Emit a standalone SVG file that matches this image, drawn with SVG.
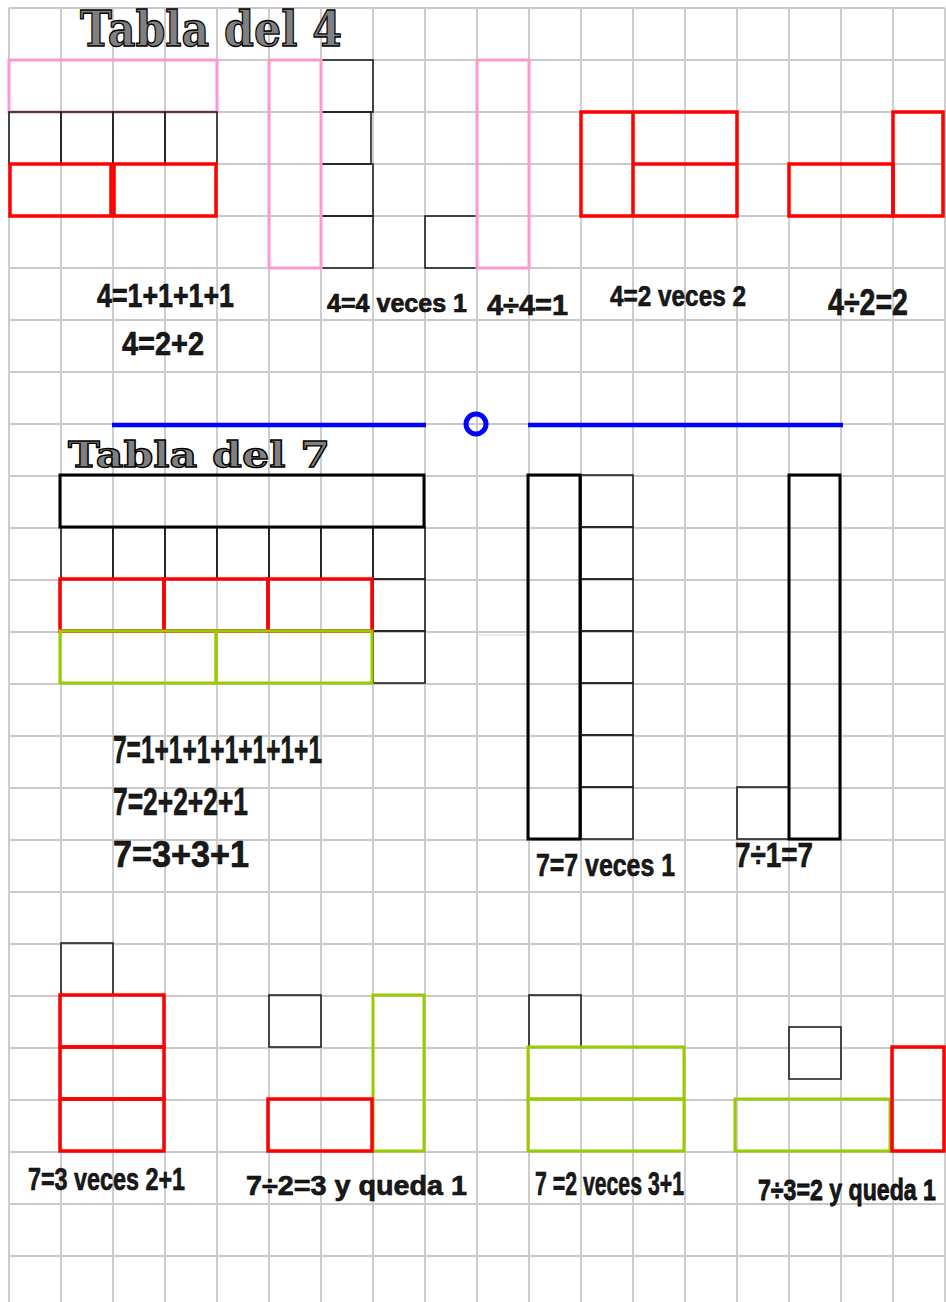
<svg xmlns="http://www.w3.org/2000/svg" width="946" height="1302" viewBox="0 0 946 1302">
<defs>
<style>
.grid line{stroke:#c9c9c9;stroke-width:1.8}
.thin{fill:none;stroke:#222;stroke-width:1.6}
.thick{fill:none;stroke:#000;stroke-width:3}
.pink{fill:none;stroke:#ff99cc;stroke-width:3}
.red{fill:none;stroke:#ff0000;stroke-width:3.5}
.green{fill:none;stroke:#99cc00;stroke-width:3}
.title{font-family:"DejaVu Serif","Liberation Serif",serif;font-weight:bold;fill:#808080;stroke:#000;stroke-width:1.3}
.lbl{font-family:"Liberation Sans",Arial,sans-serif;font-weight:bold;fill:#1a1a1a;stroke:#000;stroke-width:0.6}
</style>
</defs>
<rect width="946" height="1302" fill="#fff"/>
<g id="grid" class="grid">
<line x1="9" y1="8" x2="9" y2="1302"/><line x1="61" y1="8" x2="61" y2="1302"/><line x1="113" y1="8" x2="113" y2="1302"/><line x1="165" y1="8" x2="165" y2="1302"/><line x1="217" y1="8" x2="217" y2="1302"/><line x1="269" y1="8" x2="269" y2="1302"/><line x1="321" y1="8" x2="321" y2="1302"/><line x1="373" y1="8" x2="373" y2="1302"/><line x1="425" y1="8" x2="425" y2="1302"/><line x1="477" y1="8" x2="477" y2="1302"/><line x1="529" y1="8" x2="529" y2="1302"/><line x1="581" y1="8" x2="581" y2="1302"/><line x1="633" y1="8" x2="633" y2="1302"/><line x1="685" y1="8" x2="685" y2="1302"/><line x1="737" y1="8" x2="737" y2="1302"/><line x1="789" y1="8" x2="789" y2="1302"/><line x1="841" y1="8" x2="841" y2="1302"/><line x1="893" y1="8" x2="893" y2="1302"/><line x1="945" y1="8" x2="945" y2="1302"/>
<line x1="9" y1="8" x2="945" y2="8"/><line x1="9" y1="60" x2="945" y2="60"/><line x1="9" y1="112" x2="945" y2="112"/><line x1="9" y1="164" x2="945" y2="164"/><line x1="9" y1="216" x2="945" y2="216"/><line x1="9" y1="268" x2="945" y2="268"/><line x1="9" y1="320" x2="945" y2="320"/><line x1="9" y1="372" x2="945" y2="372"/><line x1="9" y1="424" x2="945" y2="424"/><line x1="9" y1="476" x2="945" y2="476"/><line x1="9" y1="528" x2="945" y2="528"/><line x1="9" y1="580" x2="945" y2="580"/><line x1="9" y1="632" x2="945" y2="632"/><line x1="9" y1="684" x2="945" y2="684"/><line x1="9" y1="736" x2="945" y2="736"/><line x1="9" y1="788" x2="945" y2="788"/><line x1="9" y1="840" x2="945" y2="840"/><line x1="9" y1="892" x2="945" y2="892"/><line x1="9" y1="944" x2="945" y2="944"/><line x1="9" y1="996" x2="945" y2="996"/><line x1="9" y1="1048" x2="945" y2="1048"/><line x1="9" y1="1100" x2="945" y2="1100"/><line x1="9" y1="1152" x2="945" y2="1152"/><line x1="9" y1="1204" x2="945" y2="1204"/><line x1="9" y1="1256" x2="945" y2="1256"/>
<line x1="477" y1="635" x2="527" y2="635" style="stroke:#d8d8d8;stroke-width:1.2"/>
</g>

<g id="titulo4"><text class="title" x="80" y="46" font-size="48" textLength="262" lengthAdjust="spacingAndGlyphs">Tabla del 4</text></g>

<g id="fig4-sumas">
<rect class="pink" x="9" y="60" width="208" height="52"/>
<rect class="thin" x="9" y="112" width="52" height="52"/><rect class="thin" x="61" y="112" width="52" height="52"/><rect class="thin" x="113" y="112" width="52" height="52"/><rect class="thin" x="165" y="112" width="52" height="52"/>
<rect class="red" x="10" y="164" width="101" height="52"/><rect class="red" x="114" y="164" width="102" height="52"/>
</g>

<g id="fig4-veces1">
<rect class="thin" x="321" y="60" width="52" height="52"/><rect class="thin" x="321" y="112" width="50" height="52"/><rect class="thin" x="321" y="164" width="52" height="52"/><rect class="thin" x="321" y="216" width="52" height="52"/>
<rect class="pink" x="269" y="60" width="52" height="208"/>
</g>

<g id="fig4-div1">
<rect class="thin" x="425" y="216" width="52" height="52"/>
<rect class="pink" x="477" y="60" width="52" height="208"/>
</g>

<g id="fig4-veces2">
<rect class="red" x="581" y="112" width="156" height="104"/>
<line class="red" x1="633" y1="112" x2="633" y2="216"/>
<line class="red" x1="633" y1="164" x2="737" y2="164"/>
</g>

<g id="fig4-div2">
<rect class="red" x="789" y="164" width="104" height="52"/>
<rect class="red" x="893" y="112" width="50" height="104"/>
</g>

<g id="labels4">
<text class="lbl" x="97" y="307" font-size="33" textLength="137" lengthAdjust="spacingAndGlyphs">4=1+1+1+1</text>
<text class="lbl" x="122" y="355" font-size="34" textLength="82" lengthAdjust="spacingAndGlyphs">4=2+2</text>
<text class="lbl" x="327" y="312" font-size="25" textLength="140" lengthAdjust="spacingAndGlyphs">4=4 veces 1</text>
<text class="lbl" x="487" y="315" font-size="30" textLength="81" lengthAdjust="spacingAndGlyphs">4÷4=1</text>
<text class="lbl" x="610" y="306" font-size="29" textLength="136" lengthAdjust="spacingAndGlyphs">4=2 veces 2</text>
<text class="lbl" x="828" y="315" font-size="37" textLength="80" lengthAdjust="spacingAndGlyphs">4÷2=2</text>
</g>

<g id="separador">
<line x1="112" y1="425" x2="426" y2="425" stroke="#0000ff" stroke-width="4.5"/>
<circle cx="476" cy="424" r="10" fill="none" stroke="#0000ff" stroke-width="5"/>
<line x1="528" y1="425" x2="843" y2="425" stroke="#0000ff" stroke-width="4.5"/>
</g>

<g id="titulo7"><text class="title" x="68" y="467" font-size="36" textLength="262" lengthAdjust="spacingAndGlyphs">Tabla del 7</text></g>

<g id="fig7-sumas">
<rect class="thin" x="61" y="527" width="52" height="52"/><rect class="thin" x="113" y="527" width="52" height="52"/><rect class="thin" x="165" y="527" width="52" height="52"/><rect class="thin" x="217" y="527" width="52" height="52"/><rect class="thin" x="269" y="527" width="52" height="52"/><rect class="thin" x="321" y="527" width="52" height="52"/><rect class="thin" x="373" y="527" width="52" height="52"/>
<rect class="thin" x="373" y="579" width="52" height="52"/><rect class="thin" x="373" y="631" width="52" height="52"/>
<rect class="thick" x="60" y="475" width="364" height="52"/>
<rect class="red" x="60" y="579" width="104" height="52"/><rect class="red" x="164" y="579" width="104" height="52"/><rect class="red" x="268" y="579" width="104" height="52"/>
<rect class="green" x="60" y="631" width="156" height="52"/><rect class="green" x="216" y="631" width="156" height="52"/>
</g>

<g id="fig7-veces1">
<rect class="thin" x="581" y="475" width="52" height="52"/><rect class="thin" x="581" y="527" width="52" height="52"/><rect class="thin" x="581" y="579" width="52" height="52"/><rect class="thin" x="581" y="631" width="52" height="52"/><rect class="thin" x="581" y="683" width="52" height="52"/><rect class="thin" x="581" y="735" width="52" height="52"/><rect class="thin" x="581" y="787" width="52" height="52"/>
<rect class="thick" x="528" y="475" width="52" height="364"/>
</g>

<g id="fig7-div1">
<rect class="thin" x="737" y="787" width="52" height="52"/>
<rect class="thick" x="789" y="475" width="51" height="364"/>
</g>

<g id="labels7">
<text class="lbl" x="113" y="763" font-size="38" textLength="209" lengthAdjust="spacingAndGlyphs">7=1+1+1+1+1+1+1</text>
<text class="lbl" x="113" y="815" font-size="38" textLength="135" lengthAdjust="spacingAndGlyphs">7=2+2+2+1</text>
<text class="lbl" x="113" y="867" font-size="36" textLength="136" lengthAdjust="spacingAndGlyphs">7=3+3+1</text>
<text class="lbl" x="536" y="876" font-size="32" textLength="139" lengthAdjust="spacingAndGlyphs">7=7 veces 1</text>
<text class="lbl" x="735" y="867" font-size="35" textLength="78" lengthAdjust="spacingAndGlyphs">7÷1=7</text>
</g>

<g id="fig7-veces2">
<rect class="thin" x="61" y="943" width="52" height="52"/>
<rect class="red" x="60" y="995" width="104" height="52"/><rect class="red" x="60" y="1047" width="104" height="52"/><rect class="red" x="60" y="1099" width="104" height="52"/>
</g>

<g id="fig7-div2">
<rect class="thin" x="269" y="995" width="52" height="52"/>
<rect class="green" x="373" y="995" width="51" height="156"/>
<rect class="red" x="268" y="1099" width="104" height="52"/>
</g>

<g id="fig7-veces3">
<rect class="thin" x="529" y="995" width="52" height="52"/>
<rect class="green" x="528" y="1047" width="156" height="52"/><rect class="green" x="528" y="1099" width="156" height="52"/>
</g>

<g id="fig7-div3">
<rect class="thin" x="789" y="1027" width="52" height="52"/>
<rect class="green" x="735" y="1099" width="155" height="52"/>
<rect class="red" x="892" y="1047" width="52" height="104"/>
</g>

<g id="labels7b">
<text class="lbl" x="28" y="1190" font-size="31" textLength="157" lengthAdjust="spacingAndGlyphs">7=3 veces 2+1</text>
<text class="lbl" x="246" y="1195" font-size="27" textLength="221" lengthAdjust="spacingAndGlyphs">7÷2=3 y queda 1</text>
<text class="lbl" x="535" y="1195" font-size="33" textLength="149" lengthAdjust="spacingAndGlyphs">7 =2 veces 3+1</text>
<text class="lbl" transform="scale(1,1.25)" x="758" y="960" font-size="23.5" textLength="178" lengthAdjust="spacingAndGlyphs">7÷3=2 y queda 1</text>
</g>
</svg>
